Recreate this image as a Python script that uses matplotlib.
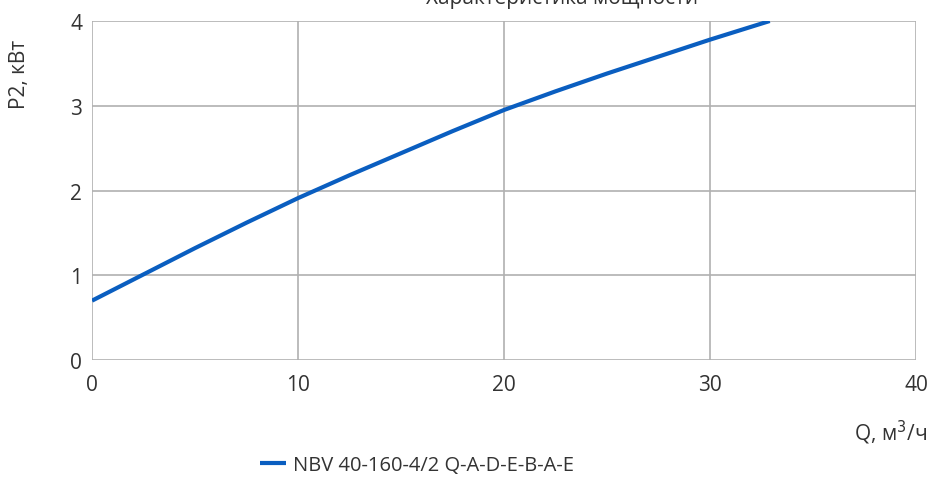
import matplotlib
matplotlib.use("Agg")
import matplotlib.pyplot as plt

plt.rcParams["font.family"] = ["Open Sans", "DejaVu Sans"]

# Power curve
flow_q = [0, 2.5, 5, 7.5, 10, 12.5, 15, 17.5, 20, 22.5, 25, 27.5, 30, 32.9]
power_p2 = [0.70, 1.01, 1.32, 1.62, 1.91, 2.18, 2.44, 2.70, 2.95, 3.17,
            3.38, 3.58, 3.78, 4.00]
series_name = "NBV 40-160-4/2 Q-A-D-E-B-A-E"
x_ticks = [0, 10, 20, 30, 40]
y_ticks = [0, 1, 2, 3, 4]

W, H = 931, 481
fig = plt.figure(figsize=(W / 100, H / 100), dpi=100)
ax = fig.add_axes([92 / W, 1 - 361 / H, (916 - 92) / W, (361 - 22) / H])

grid_col = "#b0b0b0"
text_col = "#333333"
line, = ax.plot(flow_q, power_p2, color="#0a5ec0", lw=3.0,
                solid_capstyle="butt", label=series_name, zorder=3)

ax.set_xlim(0, 40)
ax.set_ylim(0, 4)
ax.set_xticks(x_ticks)
ax.set_yticks(y_ticks)
ax.grid(True, color=grid_col, lw=1.2)
ax.set_axisbelow(True)
for s in ax.spines.values():
    s.set_visible(False)
ax.tick_params(length=0, labelsize=15, colors=text_col, pad=10)
ax.tick_params(axis="y", pad=7)

ax.text(1.0135, -0.17, "Q, м$^3$/ч", transform=ax.transAxes, ha="right",
        va="top", fontsize=15, color=text_col)
fig.text(19 / W, 1 - 74 / H, "P2, кВт", rotation=90, ha="center",
         va="center", fontsize=15, color=text_col)
fig.text(562 / W, 1 - 4 / H, "Характеристика мощности", ha="center",
         va="baseline", fontsize=15, color=text_col)

fig.legend(handles=[line], loc="center", bbox_to_anchor=(417 / W, 1 - 466 / H),
           frameon=False, fontsize=14.5, handlelength=1.25, handletextpad=0.35,
           labelcolor=text_col)

fig.savefig("out.png", dpi=100)
